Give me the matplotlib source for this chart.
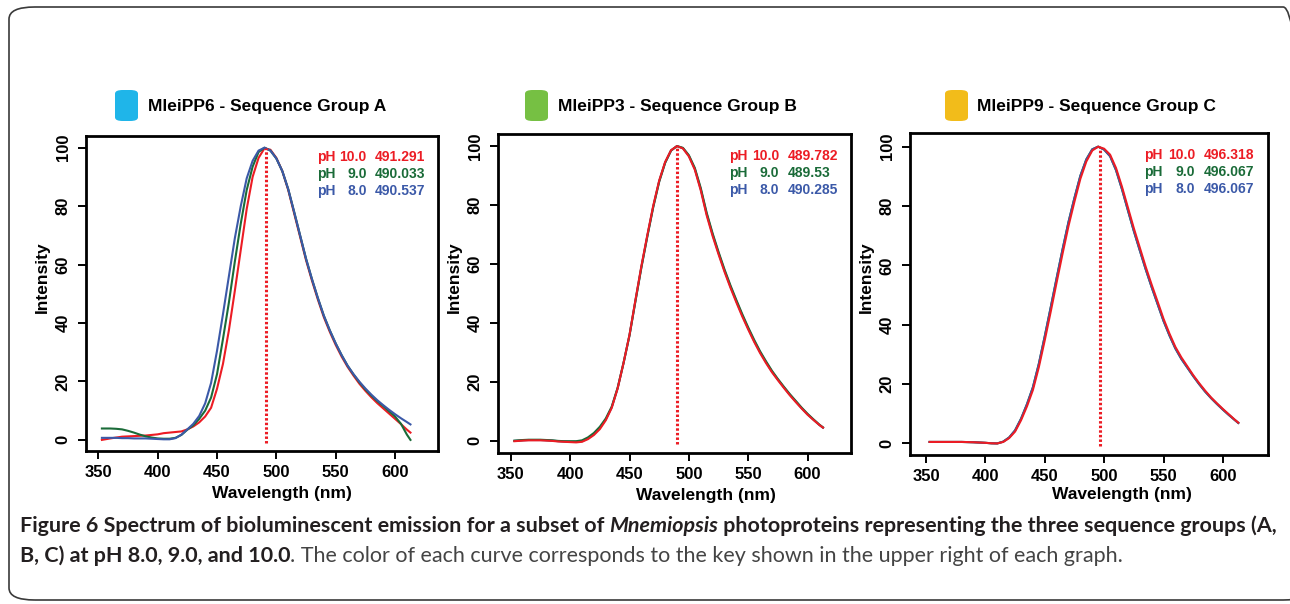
import matplotlib
matplotlib.use('Agg')
import matplotlib.pyplot as plt
from matplotlib.patches import FancyBboxPatch

plt.rcParams['font.family'] = ['Liberation Sans', 'DejaVu Sans']

# wavelength grid (nm)
wavelength = [353, 360, 365, 370, 375, 380, 385, 390, 395, 400, 405, 410, 415, 420,
              425, 430, 435, 440, 445, 450, 455, 460, 465, 470, 475, 480, 485, 490,
              495, 500, 505, 510, 515, 520, 525, 530, 535, 540, 545, 550, 555, 560,
              565, 570, 575, 580, 585, 590, 595, 600, 605, 610, 613]

# Group A - MleiPP6
a_ph10 = [0.0, 0.5, 0.8, 1.1, 1.2, 1.3, 1.4, 1.5, 1.7, 1.9, 2.3, 2.5, 2.7, 2.9,
          3.6, 4.6, 6.0, 8.0, 11.0, 17.5, 26.0, 37.5, 51.0, 65.0, 79.0, 90.0, 96.5, 99.8,
          99.3, 96.5, 92.0, 85.5, 77.5, 69.5, 61.5, 54.5, 48.0, 42.0, 37.0, 32.5, 28.5, 25.0,
          22.0, 19.2, 16.8, 14.6, 12.6, 10.8, 9.0, 7.2, 5.4, 3.5, 2.5]
a_ph9 = [3.9, 3.9, 3.8, 3.6, 3.1, 2.5, 1.8, 1.2, 0.8, 0.5, 0.4, 0.4, 0.7, 1.7,
         3.5, 5.0, 7.2, 10.0, 14.5, 22.5, 34.5, 47.0, 61.0, 74.0, 85.5, 93.5, 98.5, 100.0,
         99.0, 96.3, 92.0, 85.8, 78.0, 70.0, 62.0, 55.0, 48.5, 42.5, 37.5, 33.0, 29.0, 25.4,
         22.4, 19.7, 17.3, 15.2, 13.3, 11.6, 9.8, 8.0, 5.5, 1.8, 0.0]
a_ph8 = [0.7, 0.7, 0.7, 0.6, 0.6, 0.5, 0.5, 0.5, 0.4, 0.3, 0.2, 0.2, 0.6, 1.8,
         3.6, 5.5, 8.2, 12.5, 19.5, 30.5, 43.0, 56.0, 69.0, 80.0, 89.5, 95.5, 99.0, 100.0,
         99.0, 96.3, 92.0, 85.8, 78.0, 70.0, 62.0, 55.0, 48.5, 42.5, 37.5, 33.0, 29.0, 25.4,
         22.5, 19.9, 17.6, 15.5, 13.6, 11.9, 10.3, 8.8, 7.4, 6.1, 5.3]
peaks_a = [491.291, 490.033, 490.537]

# Group B - MleiPP3
b_ph10 = [-0.1, 0.1, 0.2, 0.2, 0.2, 0.1, 0.0, -0.2, -0.3, -0.4, -0.5, -0.3, 0.6, 2.0,
          4.0, 7.0, 11.2, 17.8, 26.5, 36.0, 47.8, 59.3, 69.8, 79.8, 88.3, 94.6, 98.6, 100.0,
          99.2, 96.5, 92.0, 85.0, 76.5, 69.5, 63.3, 57.4, 52.0, 47.0, 42.2, 37.8, 33.6, 29.8,
          26.4, 23.3, 20.6, 18.0, 15.5, 13.2, 11.0, 8.9, 7.1, 5.4, 4.5]
b_ph9 = [0.1, 0.3, 0.4, 0.4, 0.4, 0.3, 0.2, 0.0, -0.1, -0.1, -0.1, 0.2, 1.2, 2.7,
         4.8, 7.6, 11.6, 18.0, 26.5, 35.8, 47.4, 58.8, 69.3, 79.3, 87.9, 94.3, 98.5, 100.0,
         99.4, 96.9, 92.6, 85.8, 77.4, 70.4, 64.1, 58.2, 52.8, 47.8, 43.0, 38.5, 34.3, 30.4,
         27.0, 23.8, 21.0, 18.4, 15.9, 13.6, 11.3, 9.2, 7.3, 5.5, 4.6]
b_ph8 = [0.0, 0.2, 0.3, 0.3, 0.3, 0.2, 0.1, -0.1, -0.2, -0.3, -0.3, -0.1, 0.9, 2.3,
         4.4, 7.3, 11.4, 17.9, 26.5, 35.9, 47.6, 59.0, 69.5, 79.5, 88.1, 94.4, 98.5, 100.0,
         99.3, 96.7, 92.3, 85.4, 77.0, 70.0, 63.7, 57.8, 52.4, 47.4, 42.6, 38.1, 33.9, 30.1,
         26.7, 23.5, 20.8, 18.2, 15.7, 13.4, 11.1, 9.0, 7.2, 5.4, 4.5]
peaks_b = [489.782, 489.53, 490.285]

# Group C - MleiPP9
c_ph10 = [0.5, 0.5, 0.5, 0.5, 0.5, 0.5, 0.45, 0.4, 0.3, 0.2, 0.05, 0.0, 0.5, 1.8,
          4.0, 7.8, 12.5, 18.0, 25.7, 34.8, 44.4, 54.3, 64.0, 73.3, 81.5, 89.2, 95.0, 98.7,
          100.0, 99.3, 97.3, 92.8, 86.5, 79.5, 72.5, 66.0, 59.5, 53.5, 47.8, 42.0, 37.0, 32.5,
          29.0, 26.0, 23.0, 20.3, 17.8, 15.5, 13.5, 11.6, 9.8, 8.0, 7.0]
c_ph9 = [0.5, 0.5, 0.5, 0.5, 0.5, 0.5, 0.45, 0.4, 0.3, 0.2, 0.05, 0.0, 0.6, 2.0,
         4.4, 8.3, 13.2, 18.9, 26.8, 36.1, 45.8, 55.7, 65.4, 74.6, 82.7, 90.2, 95.7, 99.1,
         100.0, 99.0, 96.8, 92.1, 85.7, 78.6, 71.6, 65.1, 58.7, 52.7, 47.0, 41.3, 36.4, 32.0,
         28.5, 25.6, 22.7, 20.0, 17.5, 15.3, 13.3, 11.4, 9.6, 7.9, 6.9]
c_ph8 = [0.5, 0.5, 0.5, 0.5, 0.5, 0.5, 0.45, 0.4, 0.3, 0.2, 0.05, 0.0, 0.6, 2.0,
         4.4, 8.3, 13.2, 18.9, 26.8, 36.1, 45.8, 55.7, 65.4, 74.6, 82.7, 90.2, 95.7, 99.1,
         100.0, 99.0, 96.8, 92.1, 85.7, 78.6, 71.6, 65.1, 58.7, 52.7, 47.0, 41.3, 36.4, 32.0,
         28.5, 25.6, 22.7, 20.0, 17.5, 15.3, 13.3, 11.4, 9.6, 7.9, 6.9]
peaks_c = [496.318, 496.067, 496.067]

ph_levels = ['10.0', '9.0', '8.0']
titles = ['MleiPP6 - Sequence Group A', 'MleiPP3 - Sequence Group B', 'MleiPP9 - Sequence Group C']
x_ticks = [350, 400, 450, 500, 550, 600]
y_ticks = [0, 20, 40, 60, 80, 100]

RED, GREEN, BLUE = '#ec1c24', '#1a6b38', '#3b59a8'
ph_colors = [RED, GREEN, BLUE]
key_colors = ['#1fb5e9', '#76c043', '#f2bc1a']

W, H = 1290, 604
fig = plt.figure(figsize=(W / 100, H / 100), dpi=100)

# outer frame of the figure box (right side runs off the image)
frame = FancyBboxPatch((9 / W, 1 - 600 / H), 1300 / W, 593 / H,
                       boxstyle='round,pad=0,rounding_size=0.02', transform=fig.transFigure,
                       fill=False, ec='#3a3a3a', lw=1.2)
fig.patches.append(frame)

panels = [
    dict(curves=[a_ph10, a_ph9, a_ph8], peaks=peaks_a, order=[0, 1, 2]),
    dict(curves=[b_ph10, b_ph9, b_ph8], peaks=peaks_b, order=[2, 1, 0]),
    dict(curves=[c_ph10, c_ph9, c_ph8], peaks=peaks_c, order=[1, 2, 0]),
]
# layout in pixels: left, right, top, bottom of each plot box
boxes = [(86, 438, 136, 451), (498, 851, 134, 453), (910, 1268, 133, 455)]
xlims = [(339.6, 636.2), (339.2, 636.6), (336.5, 638.0)]
ylims = [(-3.8, 104.0), (-4.1, 104.1), (-3.9, 104.6)]
key_x = [115, 525, 945]
title_x = [148, 558, 977]
xlab_pos = [(0.556, -0.111), (0.589, -0.11), (0.592, -0.10)]

for i, p in enumerate(panels):
    l, r, t, b = boxes[i]
    ax = fig.add_axes([l / W, 1 - b / H, (r - l) / W, (b - t) / H])
    for k in p['order']:
        ax.plot(wavelength, p['curves'][k], color=ph_colors[k], lw=1.5)
    ax.vlines(p['peaks'][0], -1, 100, color=RED, lw=2.2, linestyles=(0, (0.8, 0.7)))
    ax.set_xlim(*xlims[i])
    ax.set_ylim(*ylims[i])
    ax.set_xticks(x_ticks)
    ax.set_yticks(y_ticks)
    ax.tick_params(length=6, width=1.4, labelsize=12, pad=4)
    ax.tick_params(axis='y', pad=5)
    for lab in ax.get_xticklabels():
        lab.set_fontweight('bold')
    for lab in ax.get_yticklabels():
        lab.set_fontweight('bold')
        lab.set_rotation(90)
        lab.set_va('center')
    for s in ax.spines.values():
        s.set_linewidth(2.0)
    ax.set_xlabel('Wavelength (nm)', fontsize=12.5, fontweight='bold')
    ax.set_ylabel('Intensity', fontsize=12.5, fontweight='bold')
    ax.xaxis.set_label_coords(*xlab_pos[i])
    ax.yaxis.set_label_coords(-0.102, 0.552)

    # pH key in the upper right
    for j in range(3):
        yy = 0.932 - j * 0.053
        kw = dict(transform=ax.transAxes, fontsize=10, fontweight='bold', color=ph_colors[j], va='center')
        ax.text(0.655, yy, 'pH', ha='left', **kw)
        ax.text(0.797, yy, ph_levels[j], ha='right', **kw)
        ax.text(0.82, yy, str(p['peaks'][j]), ha='left', **kw)

    # coloured key square and panel title
    fig.patches.append(FancyBboxPatch((key_x[i] / W, 1 - 121 / H), 23 / W, 31 / H,
                                      boxstyle='round,pad=0,rounding_size=0.006',
                                      transform=fig.transFigure, fc=key_colors[i], ec='none'))
    fig.text(title_x[i] / W, 1 - 106 / H, titles[i], fontsize=12.5, fontweight='bold', va='center')

# caption with mixed styles
cap_font = ['Lato', 'DejaVu Sans']
dark, grey = '#231f20', '#444444'
line1 = [('Figure 6 Spectrum of bioluminescent emission for a subset of ', 'bold', 'normal', dark),
         ('Mnemiopsis', 'bold', 'italic', dark),
         (' photoproteins representing the three sequence groups (A,', 'bold', 'normal', dark)]
line2 = [('B, C) at pH 8.0, 9.0, and 10.0', 'bold', 'normal', dark),
         ('. The color of each curve corresponds to the key shown in the upper right of each graph.',
          'normal', 'normal', grey)]

renderer = fig.canvas.get_renderer()


def run_width(runs, size):
    total = 0
    for s, w, st, c in runs:
        tt = fig.text(0, 0, s, fontsize=size, fontweight=w, fontstyle=st, family=cap_font)
        total += tt.get_window_extent(renderer).width
        tt.remove()
    return total


cap_size = 12 * 1250 / run_width(line1, 12)


def put_runs(runs, x, y):
    for s, w, st, c in runs:
        tt = fig.text(x / W, 1 - y / H, s, fontsize=cap_size, fontweight=w, fontstyle=st,
                      family=cap_font, color=c, va='baseline')
        x += tt.get_window_extent(renderer).width


put_runs(line1, 20, 532)
put_runs(line2, 20, 562)

fig.savefig('out.png', dpi=100)
